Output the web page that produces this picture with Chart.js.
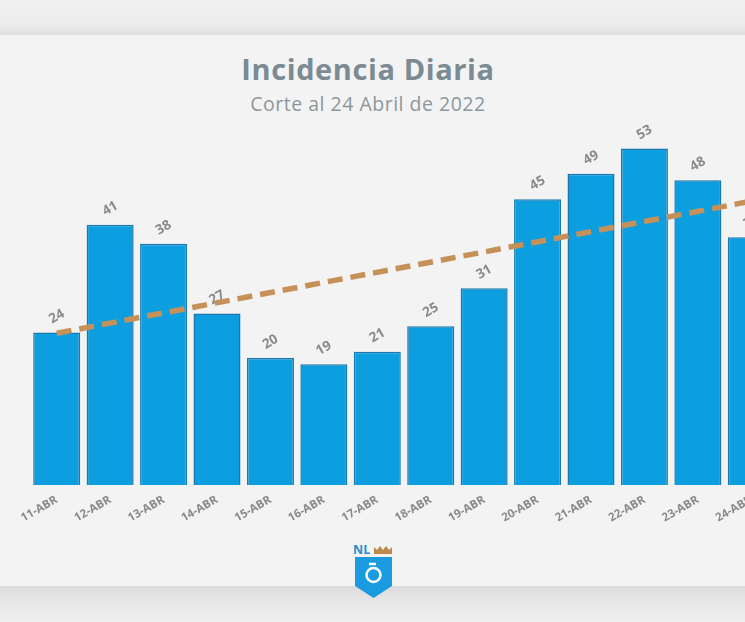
<!DOCTYPE html>
<html>
<head>
<meta charset="utf-8">
<script src="https://cdn.jsdelivr.net/npm/chart.js@4"></script>
<style>
  body { margin: 0; width: 745px; height: 622px; overflow: hidden; background: #ededed; position: relative; font-family: "Open Sans", sans-serif; }
  #top { position: absolute; left: 0; top: 0; width: 745px; height: 35px; background: linear-gradient(#f1f1f1 0%, #ececec 70%, #dedede 100%); }
  #card { position: absolute; left: 0; top: 35px; width: 745px; height: 551px; background: #f3f3f3; }
  #bottom { position: absolute; left: 0; top: 586px; width: 745px; height: 36px; background: linear-gradient(#dcdcdc 0%, #e6e6e6 40%, #efefef 100%); }
  #titulo { position: absolute; left: 0; width: 736px; top: 49px; text-align: center; font-size: 29px; font-weight: 700; letter-spacing: 0.6px; color: #7b8a93; }
  #subtitulo { position: absolute; left: 0; width: 736px; top: 90px; text-align: center; font-size: 19.5px; letter-spacing: 0.5px; color: #8c979d; }
  #wrap { position: absolute; left: 0; top: 104px; width: 800px; height: 421px; }
  #logo { position: absolute; left: 352px; top: 542px; }
</style>
</head>
<body>
<div id="top"></div>
<div id="card"></div>
<div id="bottom"></div>
<div id="titulo">Incidencia Diaria</div>
<div id="subtitulo">Corte al 24 Abril de 2022</div>
<div id="wrap"><canvas id="grafica"></canvas></div>
<svg id="logo" width="42" height="58" viewBox="0 0 42 58">
  <text x="1" y="12" font-family="Open Sans, sans-serif" font-weight="700" font-size="12.5" fill="#2a8fd0">NL</text>
  <path d="M22 5 L25 8 L28 4 L31 8 L34 4 L37 8 L40 5 L40 12 L22 12 Z" fill="#c0894c"/>
  <path d="M3 15 L40 15 L40 44 L21.5 56 L3 44 Z" fill="#1a9be0"/>
  <circle cx="21.5" cy="33" r="7" fill="none" stroke="#ffffff" stroke-width="2.5"/>
  <path d="M17 22 L24 22" stroke="#ffffff" stroke-width="2.5"/>
</svg>
<script>
// Incidencia diaria de casos
const dias = ["11-ABR", "12-ABR", "13-ABR", "14-ABR", "15-ABR", "16-ABR", "17-ABR",
  "18-ABR", "19-ABR", "20-ABR", "21-ABR", "22-ABR", "23-ABR", "24-ABR"];
const casos = [24, 41, 38, 27, 20, 19, 21, 25, 31, 45, 49, 53, 48, 39];
// tendencia: solo los extremos
const tendencia = [23.9, null, null, null, null, null, null, null, null, null, null, null, null, 44.7];

const etiquetas = {
  id: "etiquetas",
  afterDatasetDraw(chart, args) {
    if (args.index !== 0) return;
    const ctx = chart.ctx;
    ctx.save();
    ctx.font = "bold 13.5px 'Open Sans', sans-serif";
    ctx.fillStyle = "#8a8a8a";
    ctx.textAlign = "center";
    ctx.textBaseline = "middle";
    args.meta.data.forEach(function (barra, i) {
      ctx.save();
      ctx.translate(barra.x, barra.y - 16);
      ctx.rotate(-30 * Math.PI / 180);
      ctx.fillText(String(casos[i]), 0, 0);
      ctx.restore();
    });
    ctx.restore();
  }
};

document.addEventListener("DOMContentLoaded", function () {
  const ctx = document.getElementById("grafica").getContext("2d");
  new Chart(ctx, {
    data: {
      labels: dias,
      datasets: [
        {
          type: "bar",
          label: "Casos",
          data: casos,
          backgroundColor: "#0d9ee0",
          borderColor: "#1a78ad",
          borderWidth: 1.5,
          barPercentage: 0.88,
          categoryPercentage: 1,
          order: 1,
        },
        {
          type: "line",
          label: "Tendencia",
          data: tendencia,
          spanGaps: true,
          borderColor: "#c69159",
          borderWidth: 5.5,
          borderDash: [15, 8],
          pointRadius: 0,
          fill: false,
          order: 0,
        },
      ],
    },
    options: {
      responsive: true,
      maintainAspectRatio: false,
      animation: false,
      layout: { padding: { left: 30, right: 22, top: 0, bottom: 0 } },
      plugins: { legend: { display: false }, tooltip: { enabled: false } },
      scales: {
        x: {
          grid: { display: false },
          border: { display: false },
          ticks: {
            minRotation: 30,
            maxRotation: 30,
            padding: 0,
            color: "#8a8a8a",
            font: { size: 11.5, weight: "bold", family: "'Open Sans', sans-serif" },
          },
        },
        y: {
          display: false,
          min: 0,
          max: 60,
        },
      },
    },
    plugins: [etiquetas],
  });
});
</script>
</body>
</html>
